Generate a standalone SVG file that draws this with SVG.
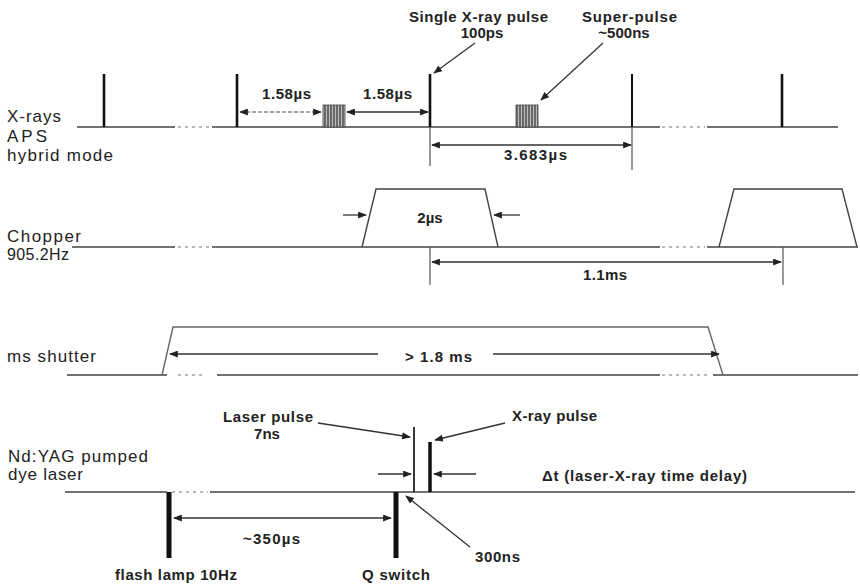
<svg xmlns="http://www.w3.org/2000/svg" width="860" height="585" viewBox="0 0 860 585">
<defs>
<style>
.lbl{font-family:"Liberation Sans",Arial,sans-serif;font-size:17px;fill:#222}
.ann{font-family:"Liberation Sans",Arial,sans-serif;font-size:15px;font-weight:bold;fill:#222}
.base{stroke:#444;stroke-width:1.5;fill:none}
.dash{stroke:#777;stroke-width:1.2;stroke-dasharray:3 4;fill:none}
.pulse{stroke:#111;stroke-width:2.6}
.ext{stroke:#555;stroke-width:1.2}
.trap{stroke:#444;stroke-width:1.4;fill:none}
.arr{stroke:#333;stroke-width:1.3;fill:none}
</style>
<marker id="ah" viewBox="0 0 10 8" refX="9" refY="4" markerWidth="9" markerHeight="7" markerUnits="userSpaceOnUse" orient="auto-start-reverse">
<path d="M0,0 L10,4 L0,8 z" fill="#222"/>
</marker>
<pattern id="hatch" width="3" height="4" patternUnits="userSpaceOnUse">
<rect width="3" height="4" fill="#bbb"/>
<line x1="1" y1="0" x2="1" y2="4" stroke="#333" stroke-width="1.2"/>
</pattern>
</defs>

<g id="xrays">
<text class="lbl" x="7" y="122" textLength="54">X-rays</text>
<text class="lbl" x="7" y="142" textLength="40">APS</text>
<text class="lbl" x="7" y="161" textLength="106">hybrid mode</text>
<path class="base" d="M77,127 H175 M212,127 H660 M707,127 H838"/>
<path class="dash" d="M178,127 H210 M662,127 H705"/>
<line class="pulse" x1="104" y1="74" x2="104" y2="127"/>
<line class="pulse" x1="237" y1="74" x2="237" y2="127"/>
<line class="pulse" x1="430" y1="74" x2="430" y2="127"/>
<line class="pulse" x1="632" y1="74" x2="632" y2="127" style="stroke-width:2"/>
<line class="pulse" x1="782" y1="74" x2="782" y2="127"/>
<line class="ext" x1="430" y1="127" x2="430" y2="166"/>
<line class="ext" x1="632" y1="127" x2="632" y2="170"/>
<rect x="323" y="105" width="22" height="22" fill="url(#hatch)" stroke="#444" stroke-width="0.8"/>
<rect x="516" y="105" width="22" height="22" fill="url(#hatch)" stroke="#444" stroke-width="0.8"/>
</g>

<g id="xray-annotations">
<text class="ann" x="409" y="22" textLength="139">Single X-ray pulse</text>
<text class="ann" x="482" y="38" text-anchor="middle">100ps</text>
<text class="ann" x="582" y="22" textLength="95">Super-pulse</text>
<text class="ann" x="624" y="38" text-anchor="middle">~500ns</text>
<text class="ann" x="262" y="99" textLength="49">1.58µs</text>
<text class="ann" x="363" y="99" textLength="49">1.58µs</text>
<text class="ann" x="504" y="160" textLength="63">3.683µs</text>
</g>

<g id="chopper">
<text class="lbl" x="7" y="242" textLength="74">Chopper</text>
<text class="lbl" x="7" y="260" textLength="62" style="font-size:16px">905.2Hz</text>
<path class="base" d="M72,247 H175 M212,247 H660 M707,247 H858"/>
<path class="dash" d="M178,247 H210 M662,247 H705"/>
<polyline class="trap" points="362,247 376,189 485,189 498,247"/>
<polyline class="trap" points="719,247 734,189 842,189 857,247"/>
<line class="ext" x1="430" y1="247" x2="430" y2="285"/>
<line class="ext" x1="783" y1="247" x2="783" y2="285"/>
<text class="ann" x="430" y="223" text-anchor="middle">2µs</text>
<text class="ann" x="583" y="280" textLength="44">1.1ms</text>
</g>

<g id="shutter">
<text class="lbl" x="7" y="362" textLength="89">ms shutter</text>
<path class="base" d="M67,375 H167 M217,375 H660 M713,375 H858"/>
<path class="dash" d="M178,375 H205 M662,375 H710"/>
<polyline class="trap" points="162,375 173,327 708,327 723,375" style="stroke:#666"/>
<text class="ann" x="405" y="362" textLength="67">&gt; 1.8 ms</text>
</g>

<g id="laser">
<text class="lbl" x="8" y="462" textLength="140">Nd:YAG pumped</text>
<text class="lbl" x="8" y="480" textLength="75">dye laser</text>
<path class="base" d="M65,492 H167 M210,492 H855"/>
<path class="dash" d="M172,492 H208"/>
<rect x="166.5" y="492" width="5" height="66" fill="#111"/>
<rect x="393.5" y="492" width="5" height="66" fill="#111"/>
<line x1="414" y1="427" x2="414" y2="492" stroke="#222" stroke-width="1.8"/>
<line x1="430" y1="442" x2="430" y2="492" stroke="#111" stroke-width="3.5"/>
<text class="ann" x="223" y="422" textLength="90">Laser pulse</text>
<text class="ann" x="267" y="439" text-anchor="middle">7ns</text>
<text class="ann" x="512" y="421" textLength="85">X-ray pulse</text>
<text class="ann" x="542" y="481" textLength="205">Δt  (laser-X-ray time delay)</text>
<text class="ann" x="475" y="562" textLength="45">300ns</text>
<text class="ann" x="243" y="544" textLength="57">~350µs</text>
<text class="ann" x="115" y="580" textLength="122">flash lamp 10Hz</text>
<text class="ann" x="362" y="580" textLength="68">Q switch</text>
</g>

<g id="connectors">
<line class="arr" x1="475" y1="43" x2="434" y2="73" marker-end="url(#ah)"/>
<line class="arr" x1="603" y1="43" x2="541" y2="100" marker-end="url(#ah)"/>
<line class="arr" x1="240" y1="112" x2="321" y2="112" marker-start="url(#ah)" marker-end="url(#ah)" style="stroke:#888;stroke-dasharray:4 2"/>
<line class="arr" x1="347" y1="112" x2="428" y2="112" marker-start="url(#ah)" marker-end="url(#ah)"/>
<line class="arr" x1="432" y1="145" x2="631" y2="145" marker-start="url(#ah)" marker-end="url(#ah)"/>
<line class="arr" x1="343" y1="215" x2="366" y2="215" marker-end="url(#ah)"/>
<line class="arr" x1="520" y1="215" x2="494" y2="215" marker-end="url(#ah)"/>
<line class="arr" x1="432" y1="262" x2="781" y2="262" marker-start="url(#ah)" marker-end="url(#ah)"/>
<line class="arr" x1="378" y1="354" x2="170" y2="354" marker-end="url(#ah)"/>
<line class="arr" x1="493" y1="354" x2="719" y2="354" marker-end="url(#ah)"/>
<line class="arr" x1="318" y1="423" x2="410" y2="437" marker-end="url(#ah)"/>
<line class="arr" x1="505" y1="423" x2="435" y2="440" marker-end="url(#ah)"/>
<line class="arr" x1="378" y1="474" x2="411" y2="474" marker-end="url(#ah)"/>
<line class="arr" x1="476" y1="474" x2="434" y2="474" marker-end="url(#ah)"/>
<line class="arr" x1="470" y1="547" x2="406" y2="496" marker-end="url(#ah)"/>
<line class="arr" x1="174" y1="518" x2="391" y2="518" marker-start="url(#ah)" marker-end="url(#ah)"/>
</g>
</svg>
